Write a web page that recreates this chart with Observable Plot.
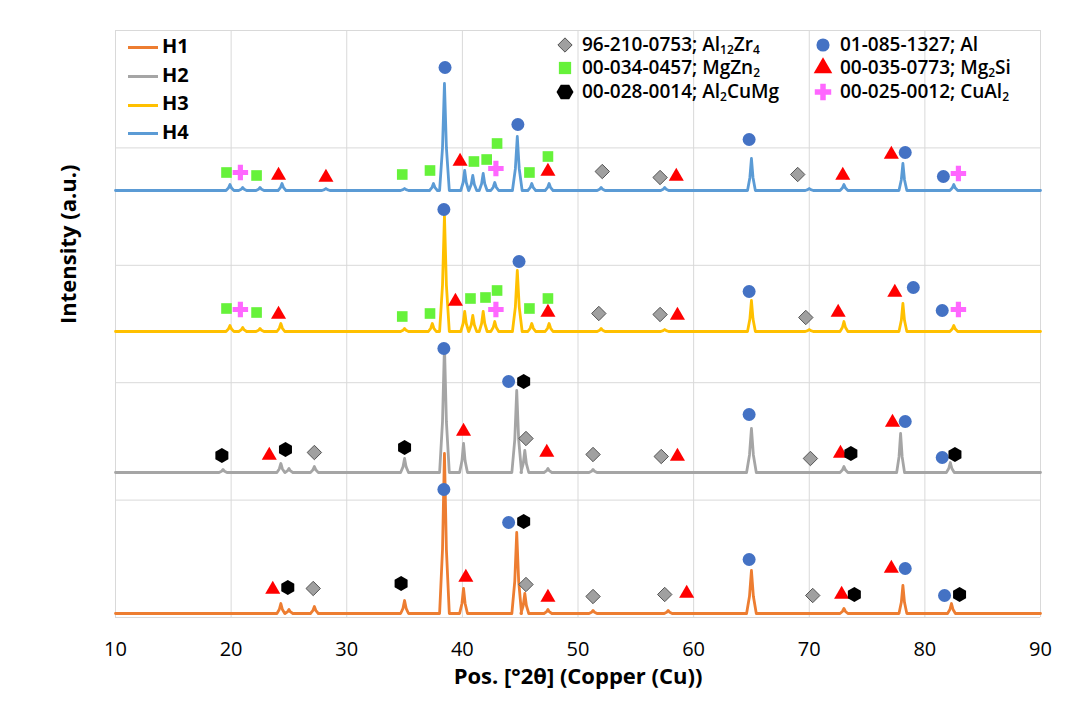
<!DOCTYPE html>
<html><head><meta charset="utf-8">
<script src="https://cdn.jsdelivr.net/npm/d3@7"></script>
<script src="https://cdn.jsdelivr.net/npm/@observablehq/plot@0.6"></script>
<style>
body{margin:0;background:#fff;font-family:"Open Sans",sans-serif}
#wrap{position:relative;width:1074px;height:709px}
.lg{position:absolute;font-size:19px;color:#000;white-space:nowrap;line-height:1;font-weight:600}
.lg sub{font-size:12px;vertical-align:-3px;line-height:0}
.hl{position:absolute;font-weight:bold;font-size:20px;line-height:1}
.hl span{display:inline-block;width:30px;height:3px;vertical-align:middle;margin-right:4px}
</style></head><body><div id="wrap"></div>
<script>
// series: baseline intensity and peaks [2θ, height]
const seriesNames = ["H1","H2","H3","H4"];
const seriesColors = ["#ED7D31","#A5A5A5","#FFC000","#5B9BD5"];
const baselines = [4,145,286,427];
const peaksH1 = [[24.3,10],[25.0,4],[27.2,7],[35.0,13],[38.45,160],[40.1,25],[44.7,81],[45.4,20],[47.4,4],[51.3,3],[57.8,3],[65.0,43],[73.0,5],[78.1,28],[82.3,10]];
const peaksH2 = [[19.3,3],[24.3,9],[25.0,4],[27.2,6],[35.0,14],[38.45,127],[40.1,29],[44.7,82],[45.4,22],[47.4,4],[51.3,3],[65.0,44],[73.0,6],[77.9,39],[82.2,10]];
const peaksH3 = [[19.9,6],[21.0,4],[22.5,3],[24.3,8],[35.0,3],[37.4,8],[38.45,116],[40.2,20],[40.9,16],[41.8,20],[42.8,10],[44.75,61],[46.0,8],[47.5,8],[52.0,3],[57.5,2],[65.0,31],[70.0,2],[73.0,10],[78.1,28],[82.5,6]];
const peaksH4 = [[19.9,6],[21.0,3],[22.5,3],[24.4,7],[28.2,2],[35.0,2],[37.5,7],[38.45,107],[40.2,20],[40.9,15],[41.8,17],[42.8,8],[44.75,54],[46.0,7],[47.5,7],[52.0,3],[57.5,3],[65.0,32],[70.0,2],[73.0,6],[78.1,27],[82.5,6]];
const allPeaks = [peaksH1,peaksH2,peaksH3,peaksH4];

// phase markers [2θ, intensity]
const mAl = [[38.5,550],[44.8,493],[64.8,478],[78.3,465],[81.6,441],[38.4,408],[44.9,356],[64.8,326],[79.0,330],[81.5,307],[38.4,269],[44.0,236],[64.8,203],[78.3,196],[81.5,160],[38.4,128],[44.0,95],[64.8,58],[78.3,49],[81.7,22]];
const mMgZn2 = [[19.6,445],[22.2,442],[34.8,443],[37.2,447],[41.0,456],[42.1,458],[43.0,474],[45.8,445],[47.4,461],[19.6,309],[22.2,305],[34.8,301],[37.2,304],[40.7,319],[42.0,320],[43.0,327],[45.8,309],[47.4,319]];
const mMg2Si = [[24.1,442],[28.2,440],[39.8,456],[47.4,446],[58.5,441],[72.9,442],[77.1,463],[24.1,303],[39.4,316],[47.4,305],[58.6,302],[72.5,305],[77.4,325],[23.3,162],[40.1,186],[47.3,165],[58.6,161],[72.7,164],[77.2,195],[23.6,28],[40.3,40],[47.4,20],[59.4,24],[72.8,23],[77.1,49]];
const mCuAl2 = [[20.8,445],[42.9,449],[82.9,444],[20.8,308],[42.9,308],[82.9,308]];
const mAl12Zr4 = [[52.1,446],[57.1,440],[69.0,443],[51.8,304],[57.1,303],[69.7,300],[27.2,165],[45.5,179],[51.3,163],[57.2,161],[70.1,159],[27.1,29],[45.5,33],[51.3,21],[57.5,23],[70.3,22]];
const mAl2CuMg = [[19.2,162],[24.7,168],[35.0,170],[45.3,236],[73.6,164],[82.6,163],[24.9,30],[34.7,34],[45.3,96],[73.9,23],[83.0,23]];

const xTicks = [10,20,30,40,50,60,70,80,90];
const yGrid = [0,117.4,234.8,352.2,469.6,587];

const lineData = [];
allPeaks.forEach((pk,i)=>{
  const b = baselines[i], s = seriesNames[i];
  const pts = [[10,b]];
  [...pk].sort((a,c)=>a[0]-c[0]).forEach(([p,h])=>{
    const w = h>40 ? 0.42 : 0.34;
    pts.push([p-w,b],[p-w*0.4,b+h*0.4],[p,b+h],[p+w*0.4,b+h*0.4],[p+w,b]);
  });
  pts.push([90,b]);
  pts.forEach(([x,y])=>lineData.push({s,x,y}));
});
const toObj = a=>a.map(([x,y])=>({x,y}));

const chart = Plot.plot({
  width:1074, height:709,
  marginLeft:115, marginRight:34, marginTop:30, marginBottom:92,
  x:{domain:[10,90]}, y:{domain:[0,587]},
  marks:[
    Plot.gridX(xTicks,{stroke:"#d9d9d9",strokeOpacity:1}),
    Plot.gridY(yGrid,{stroke:"#d9d9d9",strokeOpacity:1}),
    Plot.axisX(xTicks,{tickSize:0,fontSize:20,tickPadding:24,label:null,fill:"#000"}),
    Plot.axisY({ticks:[],label:null}),
    Plot.line(lineData,{x:"x",y:"y",z:"s",stroke:d=>seriesColors[seriesNames.indexOf(d.s)],strokeWidth:2.8}),
    Plot.dot(toObj(mAl),{x:"x",y:"y",symbol:"circle",r:6.5,fill:"#4472C4"}),
    Plot.dot(toObj(mMgZn2),{x:"x",y:"y",symbol:"square",r:6,fill:"#66F23A"}),
    Plot.dot(toObj(mMg2Si),{x:"x",y:"y",symbol:"triangle",r:5.6,fill:"#FF0000"}),
    Plot.dot(toObj(mCuAl2),{x:"x",y:"y",symbol:"cross",r:6.5,fill:"#FF66FF"}),
    Plot.dot(toObj(mAl12Zr4),{x:"x",y:"y",symbol:"diamond2",r:6.5,fill:"#A0A0A0",stroke:"#555",strokeWidth:1}),
    Plot.dot(toObj(mAl2CuMg),{x:"x",y:"y",symbol:"hexagon",r:6.5,fill:"#000"}),
    Plot.text(["Pos. [°2θ] (Copper (Cu))"],{frameAnchor:"bottom",dy:66,fontSize:22,fontWeight:"bold",fill:"#000"}),
    Plot.text(["Intensity (a.u.)"],{frameAnchor:"left",dx:-47,rotate:-90,fontSize:22,fontWeight:"bold",fill:"#000"})
  ],
  style:{fontFamily:"Open Sans",background:"#fff"}
});
const wrap = document.getElementById("wrap");
wrap.appendChild(chart);

// series legend
seriesNames.forEach((n,i)=>{
  const d=document.createElement("div");d.className="hl";
  d.style.left="128px";d.style.top=(36+i*28.7)+"px";
  d.innerHTML=`<span style="background:${seriesColors[i]}"></span>${n}`;
  wrap.appendChild(d);
});
// phase legend
const hexPath = (r)=>{let p="";for(let k=0;k<6;k++){const a=Math.PI/3*k;p+=(k?"L":"M")+(r*Math.cos(a)).toFixed(2)+","+(r*Math.sin(a)).toFixed(2);}return p+"Z";};
const phaseLegend = [
  ["diamond2","#A0A0A0","96-210-0753; Al<sub>12</sub>Zr<sub>4</sub>",565,45],
  ["square","#66F23A","00-034-0457; MgZn<sub>2</sub>",565,68],
  ["hexagon","#000","00-028-0014; Al<sub>2</sub>CuMg",565,92],
  ["circle","#4472C4","01-085-1327; Al",823,45],
  ["triangle","#FF0000","00-035-0773; Mg<sub>2</sub>Si",823,68],
  ["cross","#FF66FF","00-025-0012; CuAl<sub>2</sub>",823,92]
];
const syms={diamond2:d3.symbolDiamond2,square:d3.symbolSquare,circle:d3.symbolCircle,triangle:d3.symbolTriangle,cross:d3.symbolCross};
phaseLegend.forEach(([s,c,t,x,y])=>{
  const sz = {diamond2:130,square:150,circle:135,triangle:150,cross:150}[s];
  const path = s==="hexagon" ? hexPath(8.5) : d3.symbol(syms[s],sz)();
  const sv=document.createElementNS("http://www.w3.org/2000/svg","svg");
  sv.setAttribute("width",24);sv.setAttribute("height",24);
  sv.style.position="absolute";sv.style.left=(x-12)+"px";sv.style.top=(y-12)+"px";
  sv.innerHTML=`<path transform="translate(12,12)" d="${path}" fill="${c}" ${s==="diamond2"?'stroke="#555"':''}/>`;
  wrap.appendChild(sv);
  const d=document.createElement("div");d.className="lg";
  d.style.left=(x+17)+"px";d.style.top=(y-10)+"px";d.innerHTML=t;wrap.appendChild(d);
});
</script></body></html>
